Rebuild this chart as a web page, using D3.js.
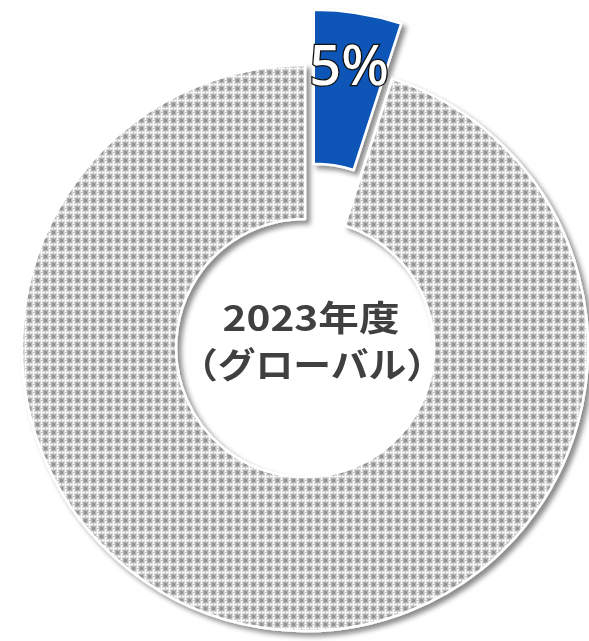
<!DOCTYPE html>
<html>
<head>
<meta charset="utf-8">
<script src="https://cdn.jsdelivr.net/npm/d3@7"></script>
<style>
  html, body { margin: 0; padding: 0; background: #fff; }
  svg { display: block; }
</style>
</head>
<body>
<div id="chart"></div>
<script>
// share of the global total, FY2023
const categories = ['対象', 'その他'];
const values = [5, 95];
const sliceLabels = ['5%', ''];
const titleLines = ['2023年度', '（グローバル）'];

const width = 589;
const height = 641;
const cx = 305, cy = 348;
const outerR = 283, innerR = 129;
const explode = 56;

const svg = d3.select('#chart').append('svg')
    .attr('width', width)
    .attr('height', height);

const defs = svg.append('defs');

// dotted grey fill, roughly the office "pattern" fill
const pat = defs.append('pattern')
    .attr('id', 'greyPat')
    .attr('patternUnits', 'userSpaceOnUse')
    .attr('width', 8).attr('height', 8);
pat.append('rect').attr('width', 8).attr('height', 8).attr('fill', '#d6d6d6');
pat.append('rect').attr('x', 0).attr('y', 0).attr('width', 8).attr('height', 1).attr('fill', '#ffffff');
pat.append('rect').attr('x', 0).attr('y', 0).attr('width', 1).attr('height', 8).attr('fill', '#ffffff');
pat.append('rect').attr('x', 2).attr('y', 2).attr('width', 5).attr('height', 5).attr('fill', '#b6b6b6');
pat.append('rect').attr('x', 3).attr('y', 3).attr('width', 3).attr('height', 3).attr('fill', '#929292');
pat.append('rect').attr('x', 4).attr('y', 0).attr('width', 1).attr('height', 1).attr('fill', '#bcbcbc');
pat.append('rect').attr('x', 0).attr('y', 4).attr('width', 1).attr('height', 1).attr('fill', '#bcbcbc');

const shadow = defs.append('filter')
    .attr('id', 'shadow')
    .attr('x', '-10%').attr('y', '-10%')
    .attr('width', '120%').attr('height', '120%');
shadow.append('feDropShadow')
    .attr('dx', 4).attr('dy', 4)
    .attr('stdDeviation', 2.5)
    .attr('flood-color', '#000')
    .attr('flood-opacity', 0.45);

const color = d3.scaleOrdinal()
    .domain(categories)
    .range(['#0a56b8', 'url(#greyPat)']);

const pie = d3.pie().sort(null).value(d => d);
const arcs = pie(values);

const arc = d3.arc().innerRadius(innerR).outerRadius(outerR);

const g = svg.append('g')
    .attr('transform', `translate(${cx},${cy})`)
    .attr('filter', 'url(#shadow)');

function offset(d, i)
{
  if (i !== 0) return [0, 0];
  const a = (d.startAngle + d.endAngle) / 2;
  return [Math.sin(a) * explode, -Math.cos(a) * explode];
}

g.selectAll('path')
    .data(arcs)
    .join('path')
    .attr('d', arc)
    .attr('transform', (d, i) => `translate(${offset(d, i)})`)
    .attr('fill', (d, i) => color(categories[i]))
    .attr('stroke', '#fff')
    .attr('stroke-width', 2.5)
    .attr('stroke-linejoin', 'round');

// slice label
const labelR = 226;
svg.append('g')
    .attr('transform', `translate(${cx},${cy})`)
    .selectAll('text')
    .data(arcs.filter((d, i) => sliceLabels[i] !== ''))
    .join('text')
    .attr('x', d => offset(d, 0)[0] + Math.sin((d.startAngle + d.endAngle) / 2) * labelR)
    .attr('y', d => offset(d, 0)[1] - Math.cos((d.startAngle + d.endAngle) / 2) * labelR)
    .attr('text-anchor', 'middle')
    .attr('dominant-baseline', 'middle')
    .attr('font-family', '"Noto Sans", sans-serif')
    .attr('font-weight', 500)
    .attr('font-size', 56)
    .attr('fill', '#fff')
    .attr('stroke', '#111')
    .attr('stroke-width', 2.6)
    .attr('paint-order', 'stroke')
    .text(d => sliceLabels[arcs.indexOf(d)]);

// centre title (Meiryo-like wide glyphs, so stretch a little)
const title = svg.append('g')
    .attr('font-family', '"Noto Sans CJK JP", sans-serif')
    .attr('font-weight', 'bold')
    .attr('fill', '#404040')
    .attr('text-anchor', 'middle');

title.append('text')
    .attr('transform', 'translate(311,331) scale(1.16,1)')
    .attr('font-size', 35)
    .text(titleLines[0]);

title.append('text')
    .attr('transform', 'translate(312,378) scale(1.08,1)')
    .attr('font-size', 35)
    .text(titleLines[1]);
</script>
</body>
</html>
